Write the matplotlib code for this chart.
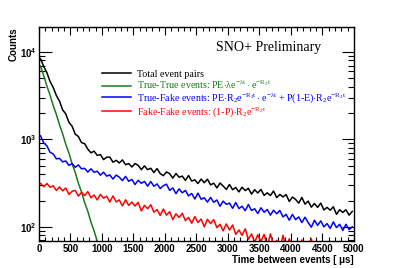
import numpy as np
import matplotlib
matplotlib.use("Agg")
import matplotlib.pyplot as plt
from matplotlib.ticker import FixedLocator, LogLocator, NullFormatter, MultipleLocator

plt.rcParams['mathtext.fontset'] = 'custom'
plt.rcParams['mathtext.rm'] = 'Liberation Serif'
plt.rcParams['mathtext.bf'] = 'Liberation Sans:bold'
plt.rcParams['mathtext.default'] = 'rm'

# histogram binning: 100 bins of 50 us
edges = np.arange(0, 5001, 50)
centers = 0.5 * (edges[:-1] + edges[1:])

total = [8380, 6830, 5810, 4610, 3940, 3190, 2750, 2180, 1960, 1570,
         1420, 1150, 1080, 920, 895, 775, 703, 735, 657, 671,
         588, 626, 628, 549, 577, 538, 583, 514, 530, 484,
         530, 505, 451, 498, 451, 468, 418, 464, 407, 385,
         425, 406, 361, 408, 370, 381, 340, 387, 334, 345,
         313, 352, 320, 351, 302, 316, 279, 317, 293, 268,
         305, 266, 282, 251, 284, 260, 276, 237, 266, 244,
         268, 229, 245, 228, 257, 216, 235, 220, 234, 195,
         219, 206, 187, 217, 182, 197, 168, 185, 167, 187,
         156, 167, 155, 170, 139, 157, 146, 157, 136, 150]

true_true = [6900, 5360, 4090, 3220, 2450, 1940, 1470, 1165, 880, 702,
             528, 420, 316, 251, 189, 151, 113, 90, 68, 54,
             40, 33, 24, 19, 15, 11, 9, 7, 5, 4]

true_fake = [1100, 912, 845, 713, 683, 600, 608, 554, 567, 504,
             530, 480, 511, 461, 467, 423, 462, 421, 433, 390,
             422, 380, 393, 352, 391, 370, 338, 378, 332, 349,
             305, 341, 315, 331, 292, 330, 291, 310, 274, 296,
             308, 261, 279, 240, 272, 245, 261, 226, 241, 208,
             243, 207, 215, 192, 217, 191, 203, 172, 197, 181,
             187, 163, 190, 162, 172, 153, 180, 154, 161, 142,
             165, 147, 158, 136, 155, 141, 154, 130, 139, 119,
             139, 121, 130, 112, 129, 112, 99, 119, 104, 117,
             100, 109, 96, 114, 98, 107, 91, 107, 93, 100]

fake_fake = [314, 288, 313, 284, 295, 261, 286, 258, 278, 235,
             255, 261, 225, 248, 228, 253, 215, 231, 203, 235,
             213, 224, 192, 226, 193, 203, 174, 204, 176, 192,
             173, 191, 152, 176, 161, 179, 147, 158, 135, 160,
             136, 149, 121, 141, 128, 143, 118, 128, 110, 131,
             112, 123, 100, 122, 109, 121, 98, 107, 90, 108,
             92, 105, 82, 92, 80, 95, 72, 83, 67, 81,
             68, 82, 60, 83, 62, 70, 55, 80, 57, 73,
             57, 66, 52, 71, 54, 62, 73, 50, 58, 48,
             61, 49, 54, 44, 57, 47, 55, 44, 52, 46]

labels = ["Total event pairs",
          r"True-True events: PE$\cdot\lambda$e$^{-\lambda t}\cdot$e$^{-R_{2}t}$",
          r"True-Fake events: PE$\cdot$R$_{2}$e$^{-R_{2}t}\cdot$e$^{-\lambda t}$ + P(1-E)$\cdot$R$_{2}$e$^{-R_{2}t}$",
          r"Fake-Fake events: (1-P)$\cdot$R$_{2}$e$^{-R_{2}t}$"]
colors = ["black", "#1a7a1a", "blue", "red"]

fig = plt.figure(figsize=(3.94, 2.68), dpi=100)
ax = fig.add_axes([0.099, 0.101, 0.799, 0.798])

series = [total, true_true, true_fake, fake_fake]
handles = []
for vals, c in zip(series, colors):
    h, = ax.plot(centers[:len(vals)], vals, color=c, lw=1.1)
    handles.append(h)

ax.set_yscale("log")
ax.set_xlim(0, 5000)
ax.set_ylim(69, 19300)

ax.xaxis.set_major_locator(MultipleLocator(500))
ax.xaxis.set_minor_locator(MultipleLocator(100))
ax.yaxis.set_major_locator(FixedLocator([100, 1000, 10000]))
ax.yaxis.set_minor_locator(LogLocator(base=10, subs=np.arange(2, 10)))
ax.yaxis.set_minor_formatter(NullFormatter())
ax.set_yticklabels([r"$\mathbf{10^{2}}$", r"$\mathbf{10^{3}}$", r"$\mathbf{10^{4}}$"])

ax.tick_params(which="both", direction="in", top=True, right=True,
               labelsize=7, width=0.8)
ax.tick_params(axis="x", which="major", length=6, pad=2)
ax.tick_params(axis="x", which="minor", length=3)
ax.tick_params(axis="y", which="major", length=9, pad=2)
ax.tick_params(axis="y", which="minor", length=4.5)
for lab in ax.get_xticklabels():
    lab.set_fontfamily("Liberation Sans")
    lab.set_fontweight("bold")
for sp in ax.spines.values():
    sp.set_linewidth(1.0)

ax.set_xlabel("Time between events [ \u03bcs]", loc="right", fontsize=7,
              fontweight="bold", family="Liberation Sans", labelpad=1)
ax.set_ylabel("Counts", loc="top", fontsize=7, fontweight="bold",
              family="Liberation Sans")
ax.yaxis.set_label_coords(-0.065, 1.0)

ax.text(0.562, 0.905, "SNO+ Preliminary", transform=ax.transAxes,
        fontsize=10, family="Liberation Serif", va="center", ha="left")

leg = ax.legend(handles, labels, loc="upper left", bbox_to_anchor=(0.2, 0.80),
                frameon=False, prop={"family": "Liberation Serif", "size": 7.2},
                labelcolor=colors, handlelength=2.9, handletextpad=0.6,
                labelspacing=0.0, borderaxespad=0, borderpad=0)

fig.savefig("out.png", dpi=100)
